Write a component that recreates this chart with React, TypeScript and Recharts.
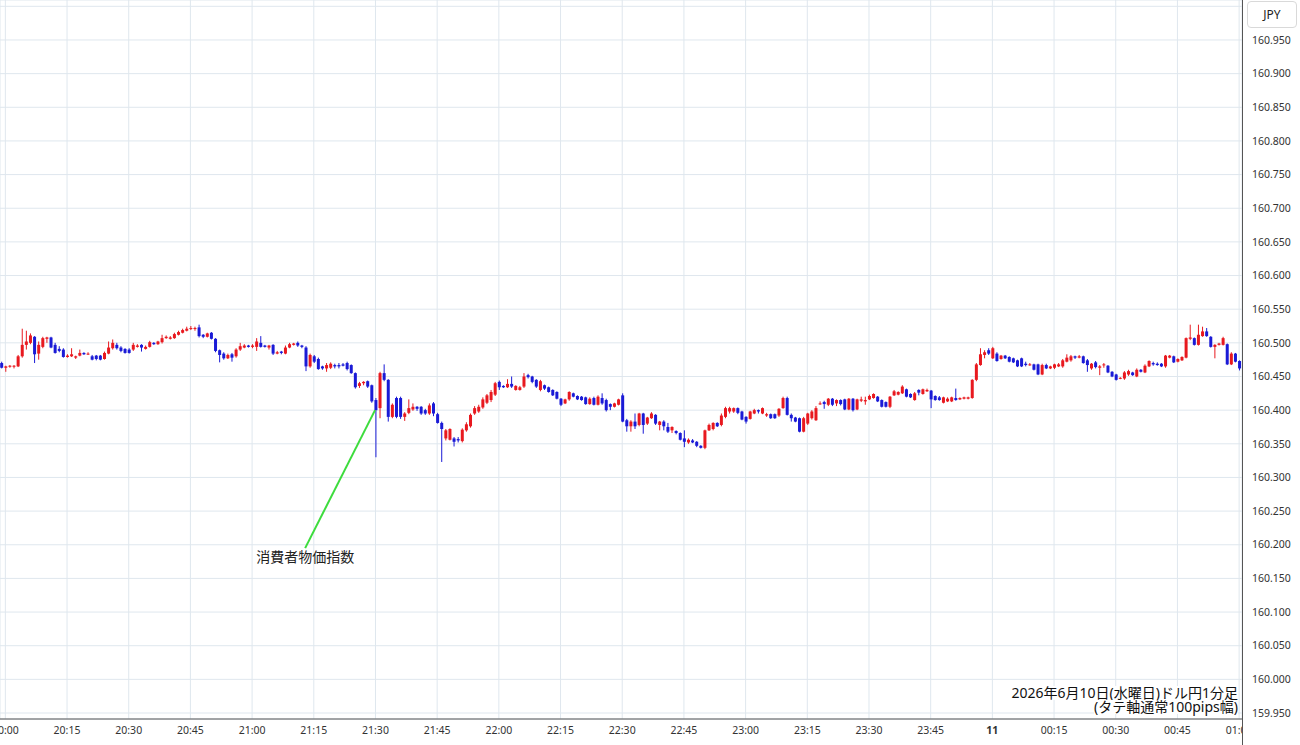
import { ComposedChart, Bar, XAxis, YAxis, CartesianGrid, ReferenceLine, ReferenceDot } from 'recharts';

// prices are stored as thousandths above 160.000 (466 -> 160.466), first candle = 19:59
const FIRST_MINUTE = -1;

const OPEN = [
  470, 463, 465, 465, 465, 480, 497, 500, 509, 484,
  494, 506, 508, 497, 491, 490, 479, 480, 478, 481,
  485, 483, 480, 481, 481, 476, 484, 492, 497, 493,
  491, 490, 490, 494, 497, 491, 494, 500, 498, 501,
  507, 506, 507, 512, 515, 518, 521, 521, 523, 512,
  509, 515, 506, 489, 484, 477, 483, 480, 490, 493,
  496, 494, 494, 500, 496, 493, 497, 484, 487, 484,
  493, 497, 500, 496, 493, 465, 480, 476, 465, 462,
  463, 467, 467, 468, 470, 467, 455, 436, 440, 443,
  437, 415, 403, 455, 445, 390, 418, 418, 390, 396,
  401, 405, 405, 400, 395, 410, 394, 381, 358, 356,
  358, 357, 354, 370, 376, 395, 398, 404, 411, 415,
  423, 442, 436, 434, 439, 430, 430, 435, 452, 450,
  445, 430, 437, 434, 430, 427, 417, 410, 416, 425,
  421, 420, 419, 409, 418, 408, 418, 415, 409, 405,
  408, 422, 385, 376, 383, 378, 395, 380, 388, 393,
  378, 383, 375, 370, 369, 366, 358, 352, 355, 353,
  347, 344, 370, 372, 381, 378, 390, 398, 398, 403,
  398, 390, 387, 395, 400, 395, 392, 394, 394, 392,
  403, 418, 393, 389, 388, 368, 380, 388, 385, 409,
  412, 408, 417, 410, 415, 416, 401, 417, 401, 414,
  413, 416, 418, 420, 415, 412, 405, 422, 423, 425,
  431, 424, 415, 430, 424, 428, 429, 421, 419, 411,
  413, 413, 418, 416, 417, 417, 418, 445, 467, 482,
  489, 477, 484, 476, 481, 479, 477, 474, 477, 469,
  467, 468, 468, 453, 467, 462, 463, 465, 465, 472,
  474, 480, 478, 480, 474, 462, 471, 463, 467, 466,
  457, 453, 447, 447, 453, 456, 450, 460, 456, 465,
  470, 469, 469, 465, 478, 480, 472, 474, 478, 506,
  507, 497, 510, 517, 509, 494, 497, 497, 498, 468,
  484, 473,
];
const HIGH = [
  472, 466, 467, 467, 482, 521, 518, 514, 510, 502,
  509, 509, 509, 500, 495, 492, 483, 492, 481, 490,
  486, 486, 482, 482, 482, 487, 502, 505, 500, 495,
  492, 492, 500, 498, 498, 496, 503, 501, 503, 512,
  511, 510, 515, 518, 521, 524, 525, 524, 527, 513,
  515, 516, 507, 490, 486, 484, 485, 492, 500, 498,
  497, 498, 507, 510, 497, 497, 498, 488, 488, 496,
  500, 500, 502, 497, 495, 484, 482, 478, 466, 470,
  471, 469, 470, 470, 472, 468, 456, 442, 443, 444,
  438, 418, 457, 468, 446, 410, 420, 420, 397, 416,
  410, 406, 406, 402, 410, 412, 396, 383, 372, 373,
  360, 360, 373, 382, 395, 406, 408, 419, 424, 430,
  442, 444, 437, 446, 450, 437, 436, 455, 454, 451,
  446, 445, 438, 435, 431, 428, 418, 417, 428, 426,
  422, 421, 420, 419, 420, 422, 425, 417, 410, 411,
  417, 425, 387, 385, 395, 396, 396, 390, 397, 394,
  384, 385, 381, 376, 370, 367, 370, 358, 357, 354,
  348, 371, 380, 382, 382, 395, 405, 405, 404, 404,
  399, 391, 399, 402, 401, 404, 396, 395, 395, 403,
  420, 420, 395, 390, 389, 390, 396, 400, 406, 413,
  414, 418, 418, 416, 416, 417, 418, 418, 417, 420,
  420, 423, 425, 421, 416, 413, 421, 430, 428, 437,
  432, 425, 427, 431, 432, 432, 430, 422, 421, 420,
  419, 420, 432, 419, 420, 420, 446, 470, 492, 489,
  492, 494, 486, 482, 482, 480, 478, 475, 478, 472,
  470, 469, 469, 469, 469, 466, 469, 470, 476, 483,
  482, 481, 482, 481, 476, 470, 473, 467, 470, 467,
  458, 454, 449, 458, 460, 457, 462, 461, 468, 474,
  472, 471, 470, 482, 482, 481, 477, 480, 508, 527,
  508, 527, 524, 522, 510, 498, 500, 509, 499, 486,
  485, 474,
];
const LOW = [
  462, 457, 463, 462, 464, 478, 490, 498, 470, 475,
  492, 500, 492, 484, 486, 478, 478, 479, 476, 480,
  482, 482, 474, 474, 474, 475, 483, 490, 490, 486,
  484, 484, 488, 493, 487, 490, 493, 497, 497, 499,
  506, 505, 506, 511, 514, 517, 519, 518, 508, 507,
  508, 505, 486, 471, 475, 476, 472, 478, 488, 492,
  493, 492, 488, 493, 493, 490, 482, 483, 483, 483,
  492, 496, 494, 492, 458, 463, 470, 460, 460, 457,
  461, 462, 462, 465, 459, 454, 432, 433, 437, 433,
  411, 330, 388, 443, 383, 388, 388, 387, 384, 394,
  399, 399, 393, 393, 393, 391, 380, 323, 355, 355,
  346, 352, 352, 368, 374, 393, 396, 402, 409, 412,
  421, 430, 433, 433, 433, 429, 429, 433, 447, 440,
  433, 428, 430, 426, 421, 416, 406, 409, 414, 419,
  415, 414, 408, 408, 407, 407, 408, 398, 400, 404,
  407, 382, 368, 368, 372, 376, 365, 378, 387, 378,
  370, 370, 366, 366, 364, 355, 345, 350, 351, 345,
  343, 342, 369, 370, 375, 376, 388, 395, 396, 394,
  385, 380, 386, 394, 395, 394, 390, 387, 387, 390,
  402, 392, 383, 382, 367, 367, 378, 386, 384, 408,
  402, 406, 406, 406, 407, 400, 400, 398, 400, 412,
  408, 415, 417, 412, 404, 404, 403, 421, 422, 424,
  419, 418, 414, 422, 423, 427, 403, 414, 414, 410,
  412, 412, 414, 415, 416, 416, 417, 443, 466, 477,
  482, 476, 472, 475, 476, 471, 470, 464, 464, 465,
  466, 459, 452, 452, 461, 461, 461, 464, 463, 471,
  472, 476, 477, 469, 457, 460, 462, 452, 463, 455,
  449, 444, 446, 445, 451, 451, 449, 456, 455, 464,
  466, 466, 464, 463, 477, 470, 471, 473, 477, 504,
  496, 496, 509, 509, 493, 477, 496, 496, 467, 467,
  471, 459,
];
const CLOSE = [
  463, 465, 466, 466, 480, 497, 502, 511, 483, 497,
  507, 508, 493, 485, 488, 479, 481, 483, 480, 485,
  483, 484, 475, 476, 475, 485, 493, 500, 492, 488,
  485, 485, 497, 496, 493, 494, 501, 498, 502, 507,
  509, 508, 513, 516, 519, 521, 522, 522, 510, 509,
  514, 506, 488, 482, 477, 482, 478, 490, 495, 496,
  494, 496, 502, 494, 494, 496, 484, 486, 485, 493,
  498, 499, 496, 494, 465, 482, 472, 461, 462, 467,
  469, 465, 465, 466, 461, 455, 434, 440, 442, 435,
  413, 400, 455, 445, 390, 408, 390, 390, 395, 403,
  405, 402, 395, 395, 407, 395, 381, 372, 370, 372,
  353, 355, 371, 379, 393, 403, 405, 416, 422, 427,
  440, 434, 434, 439, 435, 436, 434, 450, 449, 442,
  435, 443, 432, 427, 422, 417, 408, 416, 427, 420,
  416, 415, 409, 417, 408, 420, 410, 400, 405, 410,
  416, 383, 376, 383, 376, 395, 378, 389, 395, 380,
  383, 376, 368, 375, 366, 356, 353, 356, 352, 347,
  344, 370, 378, 381, 376, 392, 403, 403, 403, 396,
  386, 383, 398, 400, 398, 403, 394, 388, 388, 402,
  418, 393, 388, 383, 368, 388, 395, 398, 403, 410,
  409, 417, 408, 415, 409, 401, 417, 400, 416, 416,
  415, 421, 424, 413, 405, 405, 420, 428, 427, 435,
  420, 419, 425, 426, 431, 430, 416, 415, 415, 419,
  417, 419, 415, 418, 419, 419, 445, 468, 483, 486,
  484, 492, 473, 481, 477, 472, 471, 465, 465, 467,
  468, 460, 453, 467, 462, 465, 468, 468, 474, 478,
  480, 478, 480, 470, 467, 469, 464, 465, 468, 456,
  450, 445, 448, 456, 458, 452, 460, 457, 466, 473,
  468, 467, 465, 481, 481, 471, 476, 479, 507, 508,
  497, 512, 517, 510, 494, 497, 499, 507, 468, 484,
  472, 462,
];

// minutes after 20:00 and their labels
const X_TICKS = [0, 15, 30, 45, 60, 75, 90, 105, 120, 135, 150, 165, 180, 195, 210, 225, 240, 255, 270, 285, 300];
const X_LABELS = ['20:00', '20:15', '20:30', '20:45', '21:00', '21:15', '21:30', '21:45', '22:00', '22:15', '22:30',
  '22:45', '23:00', '23:15', '23:30', '23:45', '11', '00:15', '00:30', '00:45', '01:00'];
const Y_TICKS = [159.95, 160.0, 160.05, 160.1, 160.15, 160.2, 160.25, 160.3, 160.35, 160.4, 160.45, 160.5,
  160.55, 160.6, 160.65, 160.7, 160.75, 160.8, 160.85, 160.9, 160.95, 161.0];

const UP = '#e8191f';
const DOWN = '#1a1ad6';
const GRID = '#dfe7ee';

const toPrice = (v: number) => 160 + v / 1000;

const rows = OPEN.map((o, k) => ({
  t: FIRST_MINUTE + k,
  o: toPrice(o),
  h: toPrice(HIGH[k]),
  l: toPrice(LOW[k]),
  c: toPrice(CLOSE[k]),
  range: [toPrice(LOW[k]), toPrice(HIGH[k])],
}));

const Candle = (props: any) => {
  const { x, y, width, height, payload } = props;
  if (!payload) return null;
  const { o, h, l, c } = payload;
  const top = height >= 0 ? y : y + height;
  const span = Math.abs(height);
  const k = h > l ? span / (h - l) : 0;
  const bTop = top + (h - Math.max(o, c)) * k;
  const bBot = top + (h - Math.min(o, c)) * k;
  const color = c >= o ? UP : DOWN;
  const cx = x + width / 2;
  return (
    <g>
      <line x1={cx} x2={cx} y1={top} y2={top + span} stroke={color} strokeWidth={1} />
      <rect x={x} y={bTop} width={width} height={Math.max(1, bBot - bTop)} fill={color} />
    </g>
  );
};

const XTick = (props: any) => {
  const { x, y, payload } = props;
  const idx = X_TICKS.indexOf(payload.value);
  const label = X_LABELS[idx] ?? '';
  return (
    <text x={x} y={y} dy="0.71em" textAnchor="middle" fontSize={10.5} fill="#333"
      fontWeight={label === '11' ? 700 : 400}>
      {label}
    </text>
  );
};

const noteLine = { display: 'inline-block', background: '#fff', height: 14, lineHeight: '14px' } as const;

export default function App() {
  return (
    <div style={{ position: 'absolute', left: 0, top: 0, width: 1300, height: 745, background: '#fff',
      fontFamily: "'Noto Sans', 'Noto Sans CJK JP', sans-serif", overflow: 'hidden' }}>
      <ComposedChart width={1300} height={745} data={rows} margin={{ top: 0, right: 0, bottom: 0, left: 0 }}>
        <CartesianGrid stroke={GRID} />
        <XAxis dataKey="t" type="number" domain={[-1.3, 300.7]} ticks={X_TICKS} allowDataOverflow interval={0}
          height={26} tickLine={false} axisLine={{ stroke: '#555' }} tick={<XTick />} />
        <YAxis orientation="right" type="number" domain={[159.9411, 161.0094]} ticks={Y_TICKS} allowDataOverflow
          interval={0} width={58} tickLine={false} axisLine={false} tickMargin={4}
          tick={{ fontSize: 10.5, fill: '#333' }}
          tickFormatter={(v: number) => (v > 160.99 ? '' : v.toFixed(3))} />
        <Bar dataKey="range" barSize={3} shape={<Candle />} isAnimationActive={false} />
        <ReferenceLine segment={[{ x: 89.9, y: 160.4 }, { x: 72.9, y: 160.195 }]} stroke="#3ddc3d" strokeWidth={2} />
        <ReferenceDot x={72.9} y={160.195} r={0} stroke="none" fill="none"
          label={{ value: '消費者物価指数', position: 'bottom', offset: 4, fill: '#222', fontSize: 14 }} />
      </ComposedChart>
      <div style={{ position: 'absolute', left: 1242, top: 0, width: 1, height: 745, background: '#555' }} />
      <div style={{ position: 'absolute', left: 1243, top: 720, width: 57, height: 25, background: '#fff' }} />
      <div style={{ position: 'absolute', left: 1247, top: 1, width: 50, height: 27, boxSizing: 'border-box',
        border: '1px solid #d9d9d9', borderRadius: 4, background: '#fff', fontSize: 12, color: '#222',
        textAlign: 'center', lineHeight: '25px' }}>JPY</div>
      <div style={{ position: 'absolute', left: 880, top: 686, width: 358, textAlign: 'right', fontSize: 14,
        lineHeight: '14px', color: '#111' }}>
        <div style={{ height: 14 }}><span style={noteLine}>2026年6月10日(水曜日)ドル円1分足</span></div>
        <div style={{ height: 14 }}><span style={noteLine}>(タテ軸通常100pips幅)</span></div>
      </div>
    </div>
  );
}
